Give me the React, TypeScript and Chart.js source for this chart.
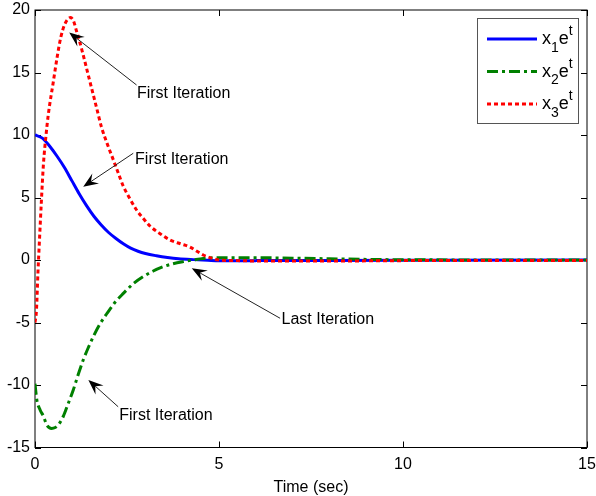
import React, { useEffect, useRef } from "react";
import { Chart, registerables } from "chart.js";

Chart.register(...registerables);

// ---- data ----
const x1Times = [0, 0.2, 0.4, 0.6, 0.8, 1.0, 1.2, 1.4, 1.6, 1.8, 2.0, 2.2, 2.4, 2.6, 2.8, 3.0, 3.3, 3.6, 3.9, 4.3, 4.7, 5, 6, 8, 10, 15];
const x1Values = [10, 9.75, 9.1, 8.3, 7.4, 6.35, 5.3, 4.35, 3.5, 2.8, 2.2, 1.72, 1.3, 0.95, 0.7, 0.52, 0.34, 0.2, 0.1, 0.03, -0.02, -0.05, -0.05, -0.03, -0.02, 0];

const x2Times = [0, 0.05, 0.14, 0.23, 0.32, 0.45, 0.55, 0.63, 0.77, 0.9, 1.04, 1.17, 1.31, 1.45, 1.59, 1.77, 1.95, 2.17, 2.4, 2.67, 2.94, 3.2, 3.49, 3.75, 4.03, 4.3, 4.57, 5, 6, 7, 8, 9, 10, 15];
const x2Values = [-9.9, -11.2, -12.0, -12.5, -13.2, -13.47, -13.4, -13.2, -12.5, -11.5, -10.4, -9.2, -8.0, -7.0, -6.1, -5.1, -4.3, -3.4, -2.67, -1.9, -1.33, -0.9, -0.53, -0.3, -0.13, 0.0, 0.12, 0.18, 0.18, 0.15, 0.1, 0.05, 0.02, 0];

const x3Times = [0, 0.04, 0.08, 0.12, 0.17, 0.23, 0.3, 0.36, 0.5, 0.6, 0.7, 0.8, 0.9, 0.97, 1.05, 1.13, 1.22, 1.31, 1.49, 1.68, 1.81, 2.0, 2.13, 2.27, 2.4, 2.58, 2.76, 2.95, 3.13, 3.4, 3.67, 3.95, 4.2, 4.4, 4.57, 4.8, 5.0, 5.5, 6, 8, 10, 12, 15];
const x3Values = [-5, -4, -1, 1.5, 4.5, 7.7, 10, 11.6, 14.3, 16.2, 17.8, 18.8, 19.3, 19.4, 19.1, 18.3, 17.4, 16.4, 14.3, 12.1, 10.6, 9.0, 8.0, 6.9, 5.9, 4.9, 4.0, 3.3, 2.7, 2.1, 1.6, 1.3, 1.05, 0.7, 0.4, 0.15, 0.0, -0.05, -0.08, -0.08, -0.05, -0.03, -0.03];

const xTickValues = [0, 5, 10, 15];
const yTickValues = [-15, -10, -5, 0, 5, 10, 15, 20];
const xAxisTitle = "Time (sec)";

// legend labels: base, subscript, base, superscript
const legendSubscripts = ["1", "2", "3"];

// annotations in data coordinates
const annotations = [
  { text: "First Iteration", tip: [0.93, 18.2], tail: [2.76, 14.0], label: [2.77, 13.3] },
  { text: "First Iteration", tip: [1.31, 5.86], tail: [2.67, 8.54], label: [2.72, 8.06] },
  { text: "First Iteration", tip: [1.45, -9.6], tail: [2.26, -11.74], label: [2.29, -12.46] },
  { text: "Last Iteration", tip: [4.26, -0.66], tail: [6.66, -4.66], label: [6.7, -4.8] },
];

const FONT = "'Liberation Sans', Arial, sans-serif";

const toPoints = (ts: number[], vs: number[]) => ts.map((t, i) => ({ x: t, y: vs[i] }));

const framePlugin = {
  id: "frame",
  beforeDatasetsDraw(chart: any) {
    const { ctx, chartArea } = chart;
    const { left, right, top, bottom } = chartArea;
    const xs = chart.scales.x;
    const ys = chart.scales.y;
    ctx.save();
    ctx.strokeStyle = "#000";
    ctx.lineWidth = 1;
    ctx.strokeRect(left, top, right - left, bottom - top);
    const tl = 6;
    ctx.beginPath();
    xTickValues.forEach((v) => {
      const px = Math.round(xs.getPixelForValue(v)) + 0.5;
      ctx.moveTo(px, bottom);
      ctx.lineTo(px, bottom - tl);
      ctx.moveTo(px, top);
      ctx.lineTo(px, top + tl);
    });
    yTickValues.forEach((v) => {
      const py = Math.round(ys.getPixelForValue(v)) + 0.5;
      ctx.moveTo(left, py);
      ctx.lineTo(left + tl, py);
      ctx.moveTo(right, py);
      ctx.lineTo(right - tl, py);
    });
    ctx.stroke();
    ctx.restore();
  },
  afterDraw(chart: any) {
    const { ctx } = chart;
    const xs = chart.scales.x;
    const ys = chart.scales.y;
    ctx.save();
    // annotations
    annotations.forEach((a) => {
      const tx = xs.getPixelForValue(a.tip[0]);
      const ty = ys.getPixelForValue(a.tip[1]);
      const sx = xs.getPixelForValue(a.tail[0]);
      const sy = ys.getPixelForValue(a.tail[1]);
      const dx = tx - sx;
      const dy = ty - sy;
      const len = Math.hypot(dx, dy);
      const ux = dx / len;
      const uy = dy / len;
      const nx = -uy;
      const ny = ux;
      const L = 15;
      const W = 6;
      const notch = 0.62 * L;
      ctx.strokeStyle = "#222";
      ctx.lineWidth = 1;
      ctx.beginPath();
      ctx.moveTo(sx, sy);
      ctx.lineTo(tx - ux * notch, ty - uy * notch);
      ctx.stroke();
      ctx.fillStyle = "#000";
      ctx.beginPath();
      ctx.moveTo(tx, ty);
      ctx.lineTo(tx - ux * L + nx * W, ty - uy * L + ny * W);
      ctx.lineTo(tx - ux * notch, ty - uy * notch);
      ctx.lineTo(tx - ux * L - nx * W, ty - uy * L - ny * W);
      ctx.closePath();
      ctx.fill();
      ctx.font = `16px ${FONT}`;
      ctx.textAlign = "left";
      ctx.textBaseline = "middle";
      ctx.fillStyle = "#000";
      ctx.fillText(a.text, xs.getPixelForValue(a.label[0]), ys.getPixelForValue(a.label[1]));
    });

    // legend
    const boxL = 477.5, boxT = 18.5, boxR = 578.5, boxB = 123.5;
    ctx.fillStyle = "#fff";
    ctx.fillRect(boxL, boxT, boxR - boxL, boxB - boxT);
    ctx.strokeStyle = "#555";
    ctx.lineWidth = 1;
    ctx.strokeRect(boxL, boxT, boxR - boxL, boxB - boxT);
    const rows = [39, 71.5, 104];
    chart.data.datasets.forEach((ds: any, i: number) => {
      const y = rows[i];
      ctx.save();
      ctx.strokeStyle = ds.borderColor;
      ctx.lineWidth = ds.borderWidth;
      ctx.setLineDash(ds.borderDash || []);
      ctx.beginPath();
      ctx.moveTo(487, y);
      ctx.lineTo(537, y);
      ctx.stroke();
      ctx.restore();
      ctx.fillStyle = "#000";
      ctx.textAlign = "left";
      ctx.textBaseline = "alphabetic";
      let x = 542;
      ctx.font = `18px ${FONT}`;
      ctx.fillText("x", x, y + 5);
      x += ctx.measureText("x").width;
      ctx.font = `14px ${FONT}`;
      ctx.fillText(legendSubscripts[i], x, y + 12.5);
      x += ctx.measureText(legendSubscripts[i]).width;
      ctx.font = `18px ${FONT}`;
      ctx.fillText("e", x, y + 5);
      x += ctx.measureText("e").width;
      ctx.font = `14px ${FONT}`;
      ctx.fillText("t", x, y - 4);
    });
    ctx.restore();
  },
};

export default function App() {
  const ref = useRef<HTMLCanvasElement | null>(null);
  useEffect(() => {
    document.body.style.margin = "0";
    const canvas = ref.current;
    if (!canvas) return;
    const tickFont = { family: FONT, size: 16 };
    const chart = new Chart(canvas, {
      type: "line",
      data: {
        datasets: [
          {
            label: "x1e^t",
            data: toPoints(x1Times, x1Values),
            borderColor: "#0000ff",
            borderWidth: 3,
            pointRadius: 0,
            cubicInterpolationMode: "monotone",
            order: 3,
          },
          {
            label: "x2e^t",
            data: toPoints(x2Times, x2Values),
            borderColor: "#008000",
            borderWidth: 3,
            borderDash: [11, 4, 3, 4],
            pointRadius: 0,
            cubicInterpolationMode: "monotone",
            order: 2,
          },
          {
            label: "x3e^t",
            data: toPoints(x3Times, x3Values),
            borderColor: "#ff0000",
            borderWidth: 3,
            borderDash: [4, 3],
            pointRadius: 0,
            cubicInterpolationMode: "monotone",
            order: 1,
          },
        ],
      } as any,
      options: {
        responsive: false,
        animation: false,
        events: [],
        layout: { padding: { top: 10, right: 9, left: 0, bottom: 0 } },
        plugins: { legend: { display: false }, tooltip: { enabled: false } },
        scales: {
          x: {
            type: "linear",
            min: 0,
            max: 15,
            afterBuildTicks: (s: any) => {
              s.ticks = xTickValues.map((v) => ({ value: v }));
            },
            ticks: { font: tickFont, color: "#000", padding: 7, maxRotation: 0 },
            grid: { display: false, drawTicks: false },
            border: { display: false },
            title: {
              display: true,
              text: xAxisTitle,
              color: "#000",
              font: { family: FONT, size: 16, lineHeight: 1 },
              padding: 0,
            },
            afterFit: (s: any) => {
              s.height = 48.5;
              s.paddingLeft = 0;
              s.paddingRight = 0;
            },
          },
          y: {
            type: "linear",
            min: -15,
            max: 20,
            afterBuildTicks: (s: any) => {
              s.ticks = yTickValues.map((v) => ({ value: v }));
            },
            ticks: { font: tickFont, color: "#000", padding: 5 },
            grid: { display: false, drawTicks: false },
            border: { display: false },
            afterFit: (s: any) => {
              s.width = 35;
              s.paddingTop = 0;
              s.paddingBottom = 0;
            },
          },
        },
      } as any,
      plugins: [framePlugin],
    });
    return () => chart.destroy();
  }, []);
  return (
    <div style={{ width: 596, height: 496 }}>
      <canvas ref={ref} width={596} height={496} />
    </div>
  );
}
